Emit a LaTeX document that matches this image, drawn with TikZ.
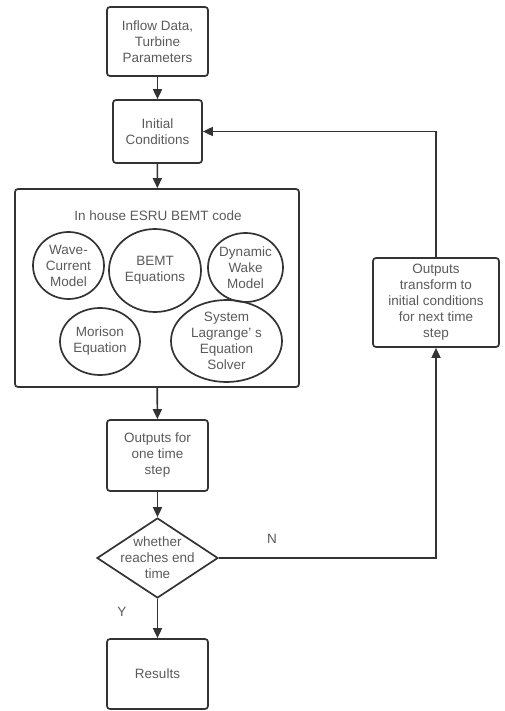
\documentclass[tikz,border=0pt]{standalone}
\usepackage{fontspec}
\setmainfont{Liberation Sans}
\usetikzlibrary{arrows.meta,positioning,shapes.geometric}
\definecolor{lineg}{RGB}{51,51,51}
\definecolor{textg}{RGB}{90,90,90}
\newcommand{\fcsize}{\fontsize{13.5}{16}\selectfont}

\begin{document}
\begin{tikzpicture}[x=1pt, y=-1pt,
  box/.style={draw=lineg, line width=1.7pt, rounded corners=3pt, minimum width=101pt,
    minimum height=69pt, align=center, text=textg, font=\fcsize, inner sep=2pt},
  blob/.style={draw=lineg, line width=1.7pt, ellipse, inner sep=0pt, align=center,
    text=textg, font=\fcsize},
  decision/.style={draw=lineg, line width=1.7pt, diamond, minimum width=121pt,
    minimum height=80pt, inner sep=0pt},
  txt/.style={text=textg, font=\fcsize, align=center, inner sep=0pt},
  arr/.style={draw=lineg, line width=1.7pt, -{Triangle[width=9pt,length=10pt]}}]
\useasboundingbox (0,0) rectangle (504,711);
% main column
\node[box] (inflow) at (157.5,41.5) {Inflow Data,\\ Turbine\\ Parameters};
\node[box, minimum width=89pt, minimum height=63pt] (init) at (157.5,131.5) {Initial\\ Conditions};
\node[draw=lineg, line width=1.7pt, rounded corners=3pt, minimum width=284pt,
  minimum height=198pt] (code) at (157,288) {};
\node[txt] (codetitle) at (158,216) {In house ESRU BEMT code};
% sub-models
\node[blob, minimum width=71pt, minimum height=67pt] (wave) at (68.5,265.5) {Wave-\\ Current\\ Model};
\node[blob, minimum width=92pt, minimum height=83pt] (bemt) at (155,270.5) {BEMT\\ Equations};
\node[blob, minimum width=75pt, minimum height=69pt] (wake) at (245.5,267.5) {Dynamic\\ Wake\\ Model};
\node[blob, minimum width=80pt, minimum height=67pt] (morison) at (100,341.5) {Morison\\ Equation};
\node[blob, minimum width=111pt, minimum height=82pt] (lagr) at (226.5,341) {System\\ Lagrange’ s\\ Equation\\ Solver};
\node[box, minimum height=71pt] (outstep) at (157.5,455.5) {Outputs for\\ one time\\ step};
\node[decision, label={[txt]center:whether\\ reaches end\\ time}] (dec) at (157.5,558) {};
\node[box, minimum height=70pt] (res) at (157.5,674) {Results};
\node[box, minimum width=126pt, minimum height=89pt] (trans) at (436,302.5)
  {Outputs\\ transform to\\ initial conditions\\ for next time\\ step};
% flow
\draw[arr] (inflow) -- (init);
\draw[arr] (init) -- (code);
\draw[arr] (code) -- (outstep);
\draw[arr] (outstep) -- (dec);
\draw[arr] (dec) -- (res);
\draw[arr] (dec.east) -| (trans.south);
\draw[arr] (trans.north) |- (init.east);
\node[txt] (yes) at (122,612) {Y};
\node[txt] (no) at (272,539) {N};
\end{tikzpicture}
\end{document}
